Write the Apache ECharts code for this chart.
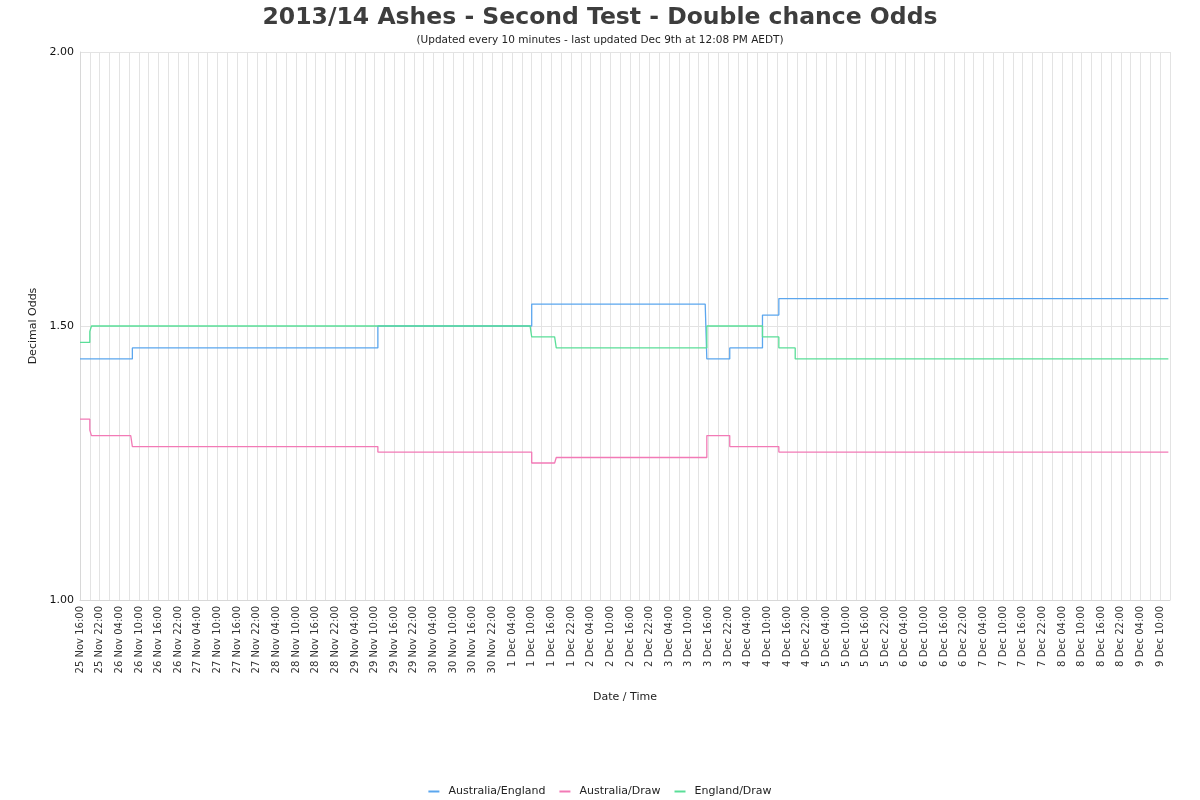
<!DOCTYPE html>
<html>
<head>
<meta charset="utf-8">
<script src="https://cdn.jsdelivr.net/npm/echarts@6/dist/echarts.min.js"></script>
<style>
html,body{margin:0;padding:0;background:#fff;}
#chart{width:1200px;height:800px;}
</style>
</head>
<body>
<div id="chart"></div>
<script>
// Time axis: half-hour categories starting 25 Nov 16:00, through 9 Dec 13:00
const startDay = 25;        // 25 Nov
const startHour = 16;       // 16:00
const totalHours = 333;     // axis length in hours
const dataHours = 332;      // data runs up to 9 Dec 12:00

// Series as step breakpoints: [hours since 25 Nov 16:00, decimal odds]
const australiaEngland = [[0, 1.44], [16, 1.46], [91, 1.50], [138, 1.54], [191.5, 1.44], [198.5, 1.46], [208.5, 1.52], [213.5, 1.55]];
const australiaDraw    = [[0, 1.33], [3, 1.31], [3.5, 1.30], [16, 1.28], [91, 1.27], [138, 1.25], [145.5, 1.26], [191.5, 1.30], [198.5, 1.28], [213.5, 1.27]];
const englandDraw      = [[0, 1.47], [3, 1.49], [3.5, 1.50], [138, 1.48], [145.5, 1.46], [191.5, 1.50], [208.5, 1.48], [213.5, 1.46], [218.5, 1.44]];

const seriesNames = ['Australia/England', 'Australia/Draw', 'England/Draw'];
const seriesColors = ['#5ba6ee', '#f27ab6', '#5ade98'];
const yTicks = [1.00, 1.50, 2.00];

function pad(n){ return (n < 10 ? '0' : '') + n; }
const categories = [];
for (let k = 0; k <= totalHours * 2; k++) {
  const mins = startHour * 60 + k * 30;
  const dayOff = Math.floor(mins / 1440);
  const m = mins % 1440;
  let day = startDay + dayOff, mon = 'Nov';
  if (day > 30) { day -= 30; mon = 'Dec'; }
  categories.push(day + ' ' + mon + ' ' + pad(Math.floor(m / 60)) + ':' + pad(m % 60));
}
function expand(bp) {
  const out = [];
  for (let k = 0; k < categories.length; k++) {
    const h = k / 2;
    if (h > dataHours) { out.push(null); continue; }
    let v = null;
    for (const [t, val] of bp) if (t <= h) v = val;
    out.push(v);
  }
  return out;
}
const allData = [australiaEngland, australiaDraw, englandDraw].map(expand);

const chart = echarts.init(document.getElementById('chart'), null, {renderer: 'canvas'});
chart.setOption({
  backgroundColor: '#fff',
  animation: false,
  textStyle: {fontFamily: 'DejaVu Sans'},
  title: {
    text: '2013/14 Ashes - Second Test - Double chance Odds',
    subtext: '(Updated every 10 minutes - last updated Dec 9th at 12:08 PM AEDT)',
    left: 'center',
    top: 1,
    itemGap: 5,
    textStyle: {fontFamily: 'DejaVu Sans', fontSize: 23.5, fontWeight: 'bold', color: '#3d3d3d'},
    subtextStyle: {fontFamily: 'DejaVu Sans', fontSize: 10.5, color: '#222'}
  },
  legend: {
    bottom: -2,
    left: 'center',
    icon: 'rect',
    itemWidth: 11,
    itemHeight: 2,
    itemGap: 14,
    textStyle: {fontFamily: 'DejaVu Sans', fontSize: 11, color: '#222', padding: [0, 0, 0, 4]},
    data: seriesNames
  },
  grid: {left: 80, right: 30, top: 52, bottom: 200, containLabel: false},
  xAxis: {
    type: 'category',
    data: categories,
    boundaryGap: false,
    name: 'Date / Time',
    nameLocation: 'middle',
    nameGap: 92,
    nameTextStyle: {fontFamily: 'DejaVu Sans', fontSize: 11, color: '#222'},
    axisLine: {lineStyle: {color: '#d8d8d8'}},
    axisTick: {show: false},
    axisLabel: {interval: 11, rotate: 90, fontSize: 10, color: '#333', margin: 6, fontFamily: 'DejaVu Sans'},
    splitLine: {show: true, interval: 5, lineStyle: {color: '#e3e3e3', width: 1}}
  },
  yAxis: {
    type: 'value',
    min: yTicks[0],
    max: yTicks[2],
    interval: 0.5,
    name: 'Decimal Odds',
    nameLocation: 'middle',
    nameGap: 33,
    nameTextStyle: {fontFamily: 'DejaVu Sans', fontSize: 11, color: '#222'},
    axisLine: {show: true, lineStyle: {color: '#d8d8d8'}},
    axisTick: {show: false},
    axisLabel: {fontSize: 11, color: '#111', margin: 6, formatter: v => v.toFixed(2), fontFamily: 'DejaVu Sans'},
    splitLine: {show: true, lineStyle: {color: '#e3e3e3'}}
  },
  series: seriesNames.map((name, i) => ({
    name: name,
    type: 'line',
    data: allData[i],
    step: 'end',
    symbol: 'none',
    connectNulls: false,
    color: seriesColors[i],
    lineStyle: {width: 1.3, color: seriesColors[i]}
  }))
});
</script>
</body>
</html>
